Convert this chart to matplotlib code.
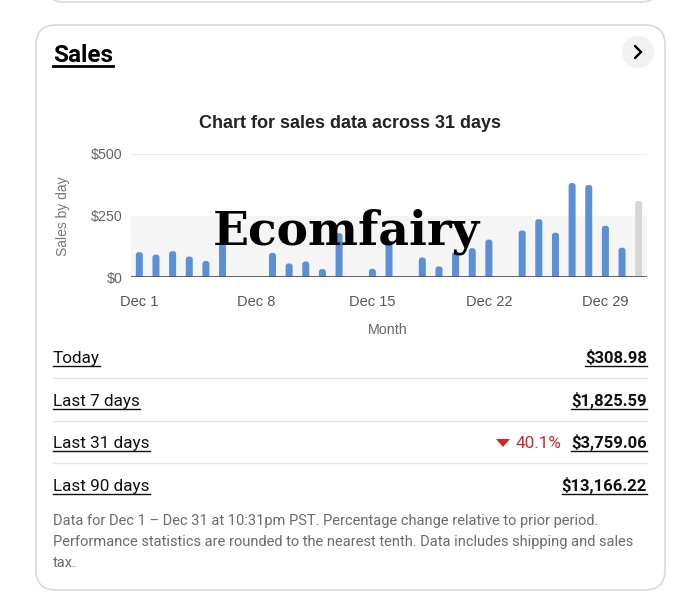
import matplotlib.pyplot as plt
from matplotlib.patches import FancyBboxPatch, Circle, Polygon
from matplotlib.lines import Line2D

# daily sales for December (last day = today, drawn grey)
days = list(range(1, 32))
sales = [101, 91, 105, 83, 65, 140, 0, 0, 98, 55, 63, 32, 178, 0, 33, 138, 0, 79, 43,
         102, 117, 152, 0, 189, 235, 180, 382, 374, 208, 119, 308.98]
tick_days = [1, 8, 15, 22, 29]
tick_labels = ['Dec 1', 'Dec 8', 'Dec 15', 'Dec 22', 'Dec 29']
y_ticks = [0, 250, 500]
y_labels = ['$0', '$250', '$500']

periods = ['Today', 'Last 7 days', 'Last 31 days', 'Last 90 days']
amounts = ['$308.98', '$1,825.59', '$3,759.06', '$13,166.22']
changes = ['', '', '40.1%', '']

footer = ['Data for Dec 1 \u2013 Dec 31 at 10:31pm PST. Percentage change relative to prior period.',
          'Performance statistics are rounded to the nearest tenth. Data includes shipping and sales',
          'tax.']

W, H = 680, 600
ui_font = 'Roboto'
chart_font = 'Liberation Sans'

fig = plt.figure(figsize=(6.8, 6), dpi=100)
bg = fig.add_axes([0, 0, 1, 1])
bg.set_xlim(0, W)
bg.set_ylim(H, 0)
bg.axis('off')
renderer = fig.canvas.get_renderer()


def underlined(x, y, s, ha='left', lw=1.0, gap=3, **kw):
    t = bg.text(x, y, s, ha=ha, va='baseline', **kw)
    bb = t.get_window_extent(renderer)
    (x0, _), (x1, _) = bg.transData.inverted().transform([[bb.x0, bb.y0], [bb.x1, bb.y1]])
    bg.add_line(Line2D([x0, x1], [y + gap, y + gap], color=kw.get('color', 'black'), lw=lw))
    return t


# cards
bg.add_patch(FancyBboxPatch((46, -60), 613, 62, boxstyle='round,pad=0,rounding_size=18',
                            fc='white', ec='#d9d9d9', lw=1.2))
bg.add_patch(FancyBboxPatch((36, 25), 629, 565, boxstyle='round,pad=0,rounding_size=20',
                            fc='white', ec='#d9d9d9', lw=1.2))

underlined(53, 62, 'Sales', fontsize=17.5, fontweight='bold', family=ui_font, lw=2, gap=4)
bg.add_patch(Circle((638, 52), 16, fc='#f2f2f2', ec='none'))
bg.add_line(Line2D([635, 641, 635], [46, 52, 58], color='black', lw=1.7,
                   solid_capstyle='round', solid_joinstyle='miter'))

# chart
bg.text(350, 124, 'Chart for sales data across 31 days', ha='center', va='center',
        fontsize=13, fontweight='bold', family=chart_font, color='#222222')
bg.text(63, 216, 'Sales by day', rotation=90, ha='center', va='center',
        fontsize=10, family=chart_font, color='#777777')
bg.text(388, 330, 'Month', ha='center', va='center', fontsize=10.3,
        family=chart_font, color='#666666')

ax = fig.add_axes([131 / W, 1 - 277 / H, 516 / W, 123 / H])
ax.set_xlim(0.5, 31.5)
ax.set_ylim(0, 500)
ax.patch.set_alpha(0)
for sp in ax.spines.values():
    sp.set_visible(False)

ax.axhspan(0, 250, color='#f5f5f5', zorder=0)
ax.axhline(500, color='#ececec', lw=1, zorder=0)

bw = 0.42
asp = (500 / 123) / (31 / 516)
for d, v in zip(days, sales):
    if v <= 0:
        continue
    col = '#d6d6d6' if d == days[-1] else '#5b8fd6'
    ax.add_patch(FancyBboxPatch((d - bw / 2, -40), bw, v + 40,
                                boxstyle='round,pad=0,rounding_size=%f' % (bw * 0.4),
                                mutation_aspect=asp, fc=col, ec='none', zorder=2))
ax.axhline(0, color='#555555', lw=1.3, zorder=3)

ax.set_xticks(tick_days, tick_labels)
ax.set_yticks(y_ticks, y_labels)
ax.tick_params(axis='x', length=0, labelsize=10.5, colors='#555555', pad=13)
ax.tick_params(axis='y', length=0, labelsize=10.3, colors='#666666', pad=6)
for lab in ax.get_xticklabels() + ax.get_yticklabels():
    lab.set_family(chart_font)

fig.text(346 / W, 1 - 232 / H, 'Ecomfairy', ha='center', va='center', fontsize=34,
         fontweight='heavy', family='DejaVu Serif', color='black')

# summary table
row_y = [363, 406, 448, 491]
for i, (p, a, c) in enumerate(zip(periods, amounts, changes)):
    y = row_y[i]
    underlined(53, y, p, fontsize=12.3, family=ui_font, color='#111111')
    underlined(647, y, a, ha='right', fontsize=12, fontweight='bold', family=ui_font,
               color='#111111')
    if c:
        bg.text(561, y, c, ha='right', va='baseline', fontsize=12.3, family=ui_font,
                color='#d5232b')
        bg.add_patch(Polygon([[496, 439], [510, 439], [503, 447]], closed=True,
                             fc='#d5232b', ec='none'))
    if i < len(periods) - 1:
        bg.add_line(Line2D([53, 647], [y + 15, y + 15], color='#e6e6e6', lw=1))

for i, line in enumerate(footer):
    bg.text(53, 525 + i * 21, line, ha='left', va='baseline', fontsize=10.5,
            family=ui_font, color='#6b6b6b')

fig.savefig('out.png', dpi=100)
